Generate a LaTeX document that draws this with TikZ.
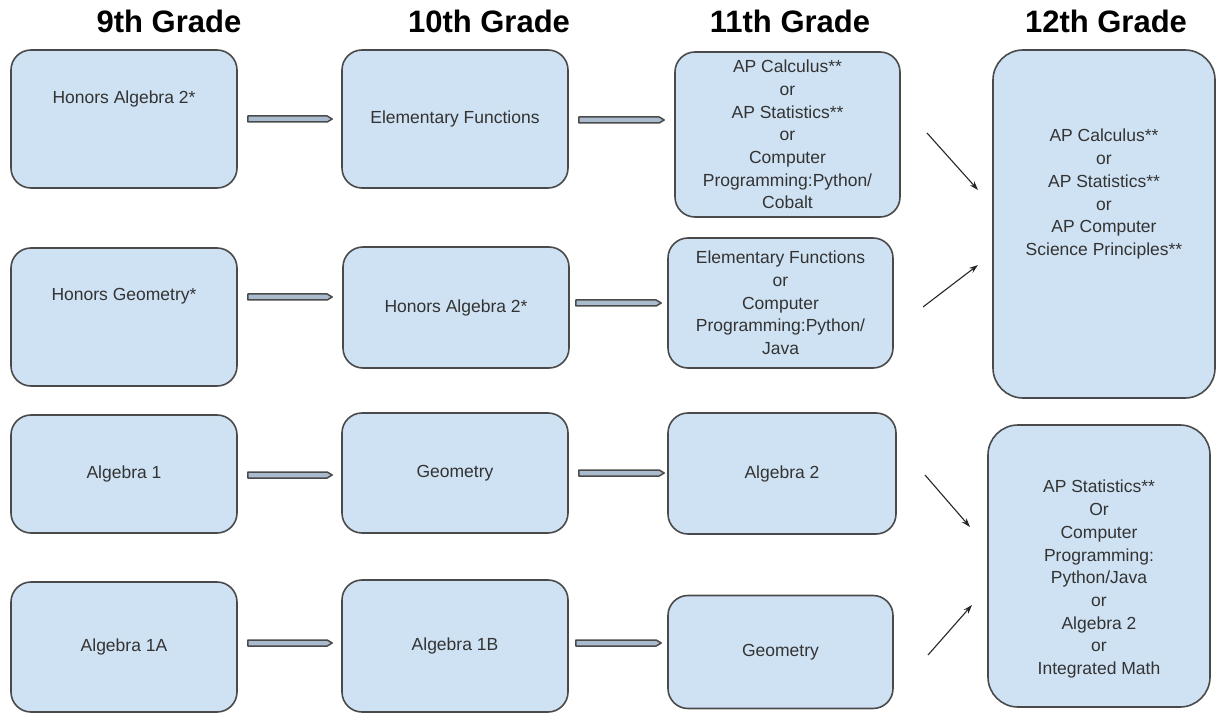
\documentclass[tikz,border=0pt]{standalone}
\usepackage{fontspec}
\setmainfont{Liberation Sans}
\usetikzlibrary{calc, arrows.meta}

\definecolor{boxfill}{HTML}{CFE2F3}
\definecolor{boxline}{HTML}{4A4A4A}
\definecolor{dblfill}{HTML}{A9BBCD}
\definecolor{txt}{HTML}{333333}
\newcommand{\boxfont}{\fontsize{17.5}{22.7}\selectfont}
\newcommand{\gradefont}{\fontsize{31}{36}\selectfont\bfseries}

\tikzset{
    box/.style={draw=boxline, fill=boxfill, line width=1.6pt, rounded corners=20pt,
        minimum width=226pt, inner sep=0pt, align=center, text=txt, font=\boxfont},
    bigbox/.style={box, rounded corners=30pt, minimum width=222pt},
    boxtext/.style={align=center, text=txt, font=\boxfont, inner sep=0pt},
    grade/.style={font=\gradefont, anchor=base},
    dbl/.style={draw=boxline, fill=dblfill, line width=1.5pt, line join=round,
        to path={let \p1=(\tikztostart), \p2=(\tikztotarget) in
            (\x1,\y1+3pt) -- (\x2-5pt,\y2+3pt) -- (\x2,\y2)
            -- (\x2-5pt,\y2-3pt) -- (\x1,\y1-3pt) -- cycle}},
    arr/.style={-{Stealth[length=9pt,width=6pt]}, line width=1.1pt, black!85}
}

\begin{document}
\begin{tikzpicture}[x=1pt, y=-1pt]
    \useasboundingbox (0,0) rectangle (1216,719);

    % Grades
    \node[grade] (g9) at (169,33) {9th Grade};
    \node[grade] (g10) at (489,33) {10th Grade};
    \node[grade] (g11) at (790,33) {11th Grade};
    \node[grade] (g12) at (1106,33) {12th Grade};

    % 9th grade
    \node[box, minimum height=138pt] (ha2) at (124,119) {};
    \node[boxtext] (ha2t) at ([yshift=-50pt]ha2.north) {Honors Algebra 2*};
    \node[box, minimum height=138pt] (hg) at (124,317) {};
    \node[boxtext] (hgt) at ([yshift=-49pt]hg.north) {Honors Geometry*};
    \node[box, minimum height=118pt] (a1) at (124,474) {Algebra 1};
    \node[box, minimum height=130pt] (a1a) at (124,647) {Algebra 1A};

    % 10th grade
    \node[box, minimum height=138pt] (ef) at (455,119) {Elementary Functions};
    \node[box, minimum height=121pt] (ha2b) at (456,307.5) {Honors Algebra 2*};
    \node[box, minimum height=120pt] (geo) at (455,473) {Geometry};
    \node[box, minimum height=132pt] (a1b) at (455,646) {Algebra 1B};

    % 11th grade
    \node[box, minimum width=225pt, minimum height=165pt] (apa) at (787.5,134.5)
        {AP Calculus**\\or\\AP Statistics**\\or\\Computer\\Programming:Python/\\Cobalt};
    \node[box, minimum width=225pt, minimum height=130pt] (efb) at (780.5,303)
        {Elementary Functions\\or\\Computer\\Programming:Python/\\Java};
    \node[box, minimum width=228pt, minimum height=121pt] (a2) at (782,473.5) {Algebra 2};
    \node[box, minimum width=225pt, minimum height=113pt] (geob) at (780.5,652) {Geometry};

    % 12th grade
    \node[bigbox, minimum height=348pt] (apb) at (1104,224) {};
    \node[boxtext] (apbt) at ([yshift=-145pt]apb.north)
        {AP Calculus**\\or\\AP Statistics**\\or\\AP Computer\\Science Principles**};
    \node[bigbox, minimum height=282pt] (aps) at (1099,566) {};
    \node[boxtext] (apst) at ([yshift=-155pt]aps.north)
        {AP Statistics**\\Or\\Computer\\Programming:\\Python/Java\\or\\Algebra 2\\or\\Integrated Math};

    % Double arrows
    \draw[dbl] ($(ha2.east |- 0,119)+(10,0)$) to ($(ef.west |- 0,119)+(-9,0)$);
    \draw[dbl] ($(ef.east |- 0,120)+(10,0)$) to ($(apa.west |- 0,120)+(-10,0)$);
    \draw[dbl] ($(hg.east |- 0,297)+(10,0)$) to ($(ha2b.west |- 0,297)+(-10,0)$);
    \draw[dbl] ($(ha2b.east |- 0,303)+(6,0)$) to ($(efb.west |- 0,303)+(-6,0)$);
    \draw[dbl] ($(a1.east |- 0,475)+(10,0)$) to ($(geo.west |- 0,475)+(-9,0)$);
    \draw[dbl] ($(geo.east |- 0,473)+(10,0)$) to ($(a2.west |- 0,473)+(-3,0)$);
    \draw[dbl] ($(a1a.east |- 0,643)+(10,0)$) to ($(a1b.west |- 0,643)+(-9,0)$);
    \draw[dbl] ($(a1b.east |- 0,643)+(7,0)$) to ($(geob.west |- 0,643)+(-6,0)$);

    % Arrows to 12th grade
    \coordinate (s1a) at (927,133);
    \coordinate (s1b) at (978,190);
    \coordinate (s2a) at (923,307);
    \coordinate (s2b) at (978,265);
    \coordinate (s3a) at (925,475);
    \coordinate (s3b) at (970,527);
    \coordinate (s4a) at (928,655);
    \coordinate (s4b) at (972,605);
    \draw[arr] (s1a) -- (s1b);
    \draw[arr] (s2a) -- (s2b);
    \draw[arr] (s3a) -- (s3b);
    \draw[arr] (s4a) -- (s4b);
\end{tikzpicture}
\end{document}
